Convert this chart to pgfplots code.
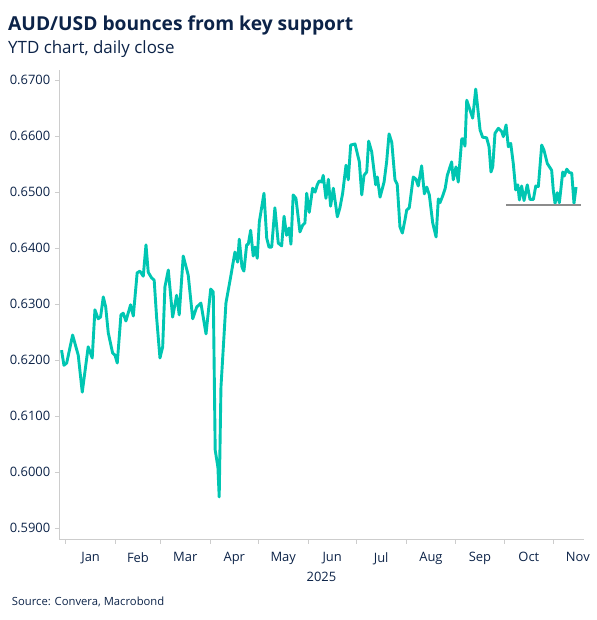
\documentclass[border=0pt]{standalone}
\usepackage{pgfplots}
\pgfplotsset{compat=1.18}
\usepackage{fontspec}
\setmainfont{Open Sans}
\definecolor{navy}{RGB}{12,35,72}
\definecolor{teal}{RGB}{0,198,178}
\definecolor{axgray}{RGB}{205,205,205}
\definecolor{supgray}{RGB}{140,140,140}
\begin{document}
\begin{tikzpicture}
\begin{axis}[
  scale only axis, width=524.3bp, height=469bp,
  xmin=-4, xmax=322.6, ymin=0.5881, ymax=0.6718,
  axis x line*=bottom, axis y line*=left,
  axis line style={draw=axgray, line width=0.9bp},
  tick align=outside, major tick length=4.5bp,
  tick style={draw=axgray, line width=0.9bp},
  ytick={0.59,0.60,0.61,0.62,0.63,0.64,0.65,0.66,0.67},
  yticklabel style={/pgf/number format/fixed, /pgf/number format/fixed zerofill, /pgf/number format/precision=4, /pgf/number format/assume math mode=true},
  yticklabel style={font=\fontsize{13}{15}\selectfont, text=navy, xshift=-1bp},
  xtick={0,31,59,90,120,151,181,212,243,273,304},
  xticklabels={},
  extra x ticks={15.5,45,74.5,105,135.5,166,196.5,227.5,258,288.5,319},
  extra x tick labels={Jan,Feb,Mar,Apr,May,Jun,Jul,Aug,Sep,Oct,Nov},
  extra x tick style={major tick length=0pt, tick style={draw=none}},
  xticklabel style={font=\fontsize{13}{15}\selectfont, text=navy, yshift=-10bp},
  xlabel={2025}, xlabel style={font=\fontsize{13}{15}\selectfont, text=navy, yshift=4bp},
  clip=false,
]
\addplot[teal, line width=2.9bp, line join=round] table {
x y
-2.6 0.6218
-1.1 0.6191
0.6 0.6195
4.3 0.6245
7.8 0.6209
10.3 0.6143
14.0 0.6224
16.5 0.6204
18.2 0.6290
20.2 0.6274
21.7 0.6277
23.4 0.6313
24.9 0.6295
26.5 0.6249
29.2 0.6213
30.7 0.6209
32.1 0.6195
34.4 0.6281
35.8 0.6284
37.5 0.6270
40.4 0.6299
42.1 0.6279
44.5 0.6356
46.2 0.6359
48.3 0.6350
50.0 0.6406
51.4 0.6357
53.5 0.6347
55.1 0.6343
56.6 0.6277
58.7 0.6204
60.4 0.6224
61.8 0.6331
63.9 0.6361
66.6 0.6277
69.1 0.6316
70.7 0.6281
73.2 0.6386
76.3 0.6352
79.1 0.6274
81.6 0.6295
84.2 0.6302
87.4 0.6247
90.3 0.6327
91.9 0.6322
93.1 0.6040
94.8 0.6009
95.6 0.5956
96.7 0.6152
99.8 0.6302
102.7 0.6348
105.4 0.6393
107.1 0.6375
108.1 0.6416
109.8 0.6366
111.0 0.6359
112.7 0.6406
113.7 0.6407
115.2 0.6432
116.8 0.6386
117.9 0.6402
119.3 0.6382
120.6 0.6447
123.5 0.6498
125.2 0.6418
126.6 0.6402
128.3 0.6402
130.3 0.6472
132.4 0.6409
134.5 0.6404
136.0 0.6457
137.6 0.6423
139.1 0.6436
140.3 0.6407
141.7 0.6495
143.4 0.6489
145.9 0.6429
147.6 0.6441
149.0 0.6445
150.1 0.6498
151.7 0.6464
153.8 0.6507
155.3 0.6500
156.7 0.6513
157.9 0.6520
159.4 0.6518
160.4 0.6530
162.1 0.6489
163.6 0.6523
165.0 0.6475
166.7 0.6507
169.2 0.6456
170.8 0.6472
172.5 0.6498
174.6 0.6548
176.0 0.6522
177.5 0.6584
180.2 0.6586
182.9 0.6554
184.4 0.6495
185.8 0.6530
187.5 0.6536
188.7 0.6591
190.6 0.6572
193.1 0.6513
194.1 0.6527
195.8 0.6491
198.3 0.6518
199.9 0.6554
201.4 0.6604
203.1 0.6589
205.1 0.6522
206.5 0.6514
208.2 0.6438
209.7 0.6427
211.3 0.6450
212.4 0.6468
214.0 0.6472
216.5 0.6527
218.2 0.6523
219.6 0.6511
221.7 0.6547
223.4 0.6497
224.9 0.6509
226.5 0.6495
228.6 0.6445
230.7 0.6420
232.1 0.6488
233.1 0.6481
234.8 0.6493
236.4 0.6507
237.7 0.6530
240.4 0.6554
241.4 0.6522
243.1 0.6545
244.5 0.6518
246.7 0.6595
247.7 0.6595
248.7 0.6582
249.8 0.6664
253.5 0.6632
255.4 0.6684
258.1 0.6611
259.7 0.6598
262.2 0.6597
263.7 0.6581
264.9 0.6536
266.0 0.6545
267.4 0.6605
269.5 0.6614
271.6 0.6608
272.6 0.6599
274.3 0.6620
275.7 0.6581
277.2 0.6587
278.8 0.6551
280.3 0.6504
281.6 0.6513
282.6 0.6486
284.0 0.6511
285.5 0.6485
287.5 0.6513
289.2 0.6487
291.3 0.6487
292.8 0.6511
294.4 0.6510
296.5 0.6584
297.9 0.6575
300.0 0.6551
302.7 0.6539
303.7 0.6504
304.8 0.6480
306.2 0.6499
307.5 0.6481
309.6 0.6536
310.6 0.6529
312.1 0.6541
313.7 0.6535
315.2 0.6534
316.6 0.6480
317.9 0.6509
};
\addplot[supgray, line width=1.8bp] coordinates {(274.3,0.6477) (321.0,0.6477)};
\coordinate (A) at (rel axis cs:0,0);
\end{axis}
\pgfresetboundingbox
\begin{scope}[shift={(A)}, x=1bp, y=1bp]
\useasboundingbox (-59.3,-81) rectangle (537.7,539);
\node[anchor=base west, inner sep=0, text=navy, font=\fontsize{19.3}{23}\selectfont\bfseries] at (-51.3,508.3) {AUD/USD bounces from key support};
\node[anchor=base west, inner sep=0, text=navy, font=\fontsize{17}{20}\selectfont] at (-51.3,485) {YTD chart, daily close};
\node[anchor=base west, inner sep=0, text=navy, font=\fontsize{11.3}{13}\selectfont] at (-47.6,-66.7) {Source: Convera, Macrobond};
\end{scope}
\end{tikzpicture}
\end{document}
